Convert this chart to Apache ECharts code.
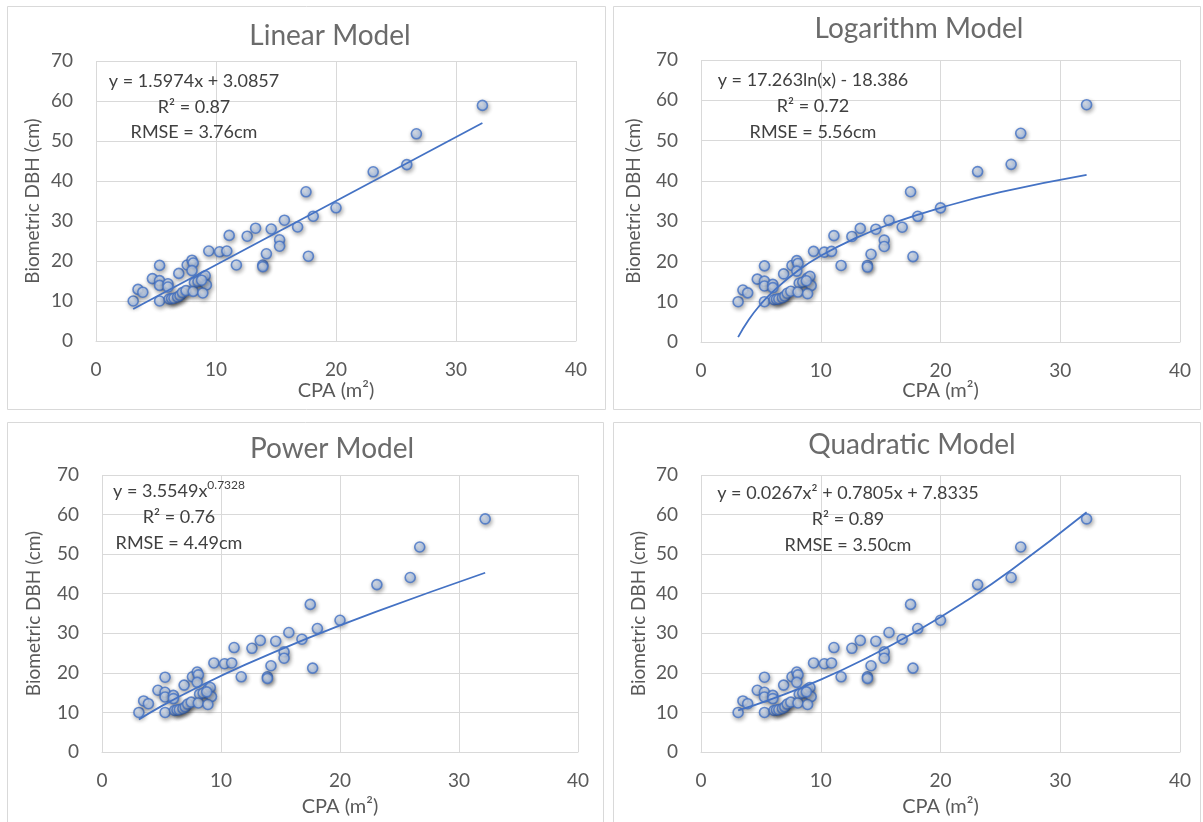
<!DOCTYPE html>
<html>
<head>
<meta charset="utf-8">
<title>CPA vs DBH models</title>
<script src="https://cdn.jsdelivr.net/npm/echarts@6/dist/echarts.min.js"></script>
<style>
    body { margin: 0; background: #fff; }
    #main { width: 1203px; height: 822px; }
</style>
</head>
<body>
<div id="main"></div>
<script>
// measured points: crown projection area (m2) and biometric DBH (cm)
var cpa = [3.1, 3.5, 3.9, 4.7, 5.3, 5.3, 5.3, 5.3, 6.0, 6.0, 6.1, 6.3, 6.5, 6.8, 6.9, 7.0, 7.2, 7.5,
    7.6, 8.0, 8.1, 8.0, 8.2, 8.1, 8.5, 8.9, 9.1, 9.2, 8.9, 8.8, 9.4, 10.3, 10.9, 11.1, 11.7, 12.6,
    13.3, 13.9, 13.9, 14.2, 14.6, 15.3, 15.3, 15.7, 16.8, 17.5, 17.7, 18.1, 20.0, 23.1, 25.9, 26.7, 32.2];
var dbh = [10.0, 12.9, 12.2, 15.6, 18.9, 15.1, 13.9, 10.0, 14.3, 13.5, 10.5, 10.6, 10.7, 11.0, 16.9, 11.4, 12.1, 12.6,
    19.0, 20.2, 19.5, 17.6, 14.6, 12.4, 14.9, 15.9, 16.3, 14.0, 12.0, 15.2, 22.5, 22.3, 22.5, 26.4, 19.0, 26.2,
    28.2, 19.0, 18.6, 21.8, 28.0, 25.3, 23.7, 30.2, 28.5, 37.3, 21.2, 31.2, 33.3, 42.3, 44.1, 51.8, 58.9];

// trendlines
var linTrendX = [3.1, 32.2];
var linTrendY = [8.0, 54.5];
var logTrendX = [3.1, 4, 5, 6, 8, 10, 13, 16, 20, 25, 32.2];
var logTrendY = [1.2, 5.6, 9.4, 12.5, 17.5, 21.4, 25.9, 29.5, 33.3, 37.2, 41.5];
var powTrendX = [3.1, 5, 8, 12, 17, 23, 32.2];
var powTrendY = [8.2, 11.6, 16.3, 22.0, 28.4, 35.4, 45.3];
var quadTrendX = [3.1, 6, 10, 14, 18, 22, 26, 32.2];
var quadTrendY = [10.5, 13.5, 18.3, 24.0, 30.5, 37.9, 46.2, 60.6];

var titles = ['Linear Model', 'Logarithm Model', 'Power Model', 'Quadratic Model'];
var equations = ['y = 1.5974x + 3.0857', 'y = 17.263ln(x) - 18.386', 'y = 3.5549x', 'y = 0.0267x² + 0.7805x + 7.8335'];
var powerExp = '0.7328';
var r2Labels = ['R² = 0.87', 'R² = 0.72', 'R² = 0.76', 'R² = 0.89'];
var rmseLabels = ['RMSE = 3.76cm', 'RMSE = 5.56cm', 'RMSE = 4.49cm', 'RMSE = 3.50cm'];
var xTicks = [0, 10, 20, 30, 40];
var yTicks = [0, 10, 20, 30, 40, 50, 60, 70];

var trends = [[linTrendX, linTrendY], [logTrendX, logTrendY], [powTrendX, powTrendY], [quadTrendX, quadTrendY]];

// layout of the four panels
var boxes = [[7, 6, 598, 403], [613, 6, 587, 403], [7, 422, 596, 400], [613, 422, 587, 400]];
var grids = [
    {left: 96, top: 61, width: 480, height: 280},
    {left: 701, top: 60, width: 479, height: 282},
    {left: 102, top: 475, width: 476, height: 277},
    {left: 701, top: 475, width: 479, height: 277}
];
var titlePos = [[330, 36], [919, 29], [332, 449], [912, 445]];
var notePos = [[194, 81, 107, 132], [813, 80, 106, 132], [179, 491, 517, 543], [848, 493, 519, 545]];
var yNameGap = [54, 58, 59, 53];
var xNameGap = [40, 39, 45, 45];

var FONT = 'Lato';
var GREY = '#595959';

var myChart = echarts.init(document.getElementById('main'));

var ctx = document.createElement('canvas').getContext('2d');
function textWidth(t, size) {
    ctx.font = size + 'px ' + FONT;
    return ctx.measureText(t).width;
}

var graphic = [];
var xAxis = [], yAxis = [], series = [];
var points = cpa.map(function (v, i) { return [v, dbh[i]]; });

for (var i = 0; i < 4; i++) {
    var b = boxes[i];
    graphic.push({
        type: 'rect', z: -10,
        shape: {x: b[0] + 0.5, y: b[1] + 0.5, width: b[2], height: b[3]},
        style: {fill: '#fff', stroke: '#d9d9d9', lineWidth: 1}
    });
    graphic.push({
        type: 'text', x: titlePos[i][0], y: titlePos[i][1],
        style: {text: titles[i], fill: '#6b6b6b', fontSize: 28, fontFamily: FONT, align: 'center', verticalAlign: 'middle'}
    });

    var np = notePos[i];
    if (i === 2) {
        // power equation with superscript exponent
        var w1 = textWidth(equations[i], 18), w2 = textWidth(powerExp, 12);
        var x0 = np[0] - (w1 + w2) / 2;
        graphic.push({
            type: 'text', x: x0, y: np[1], z: 20,
            style: {text: equations[i], fill: '#404040', fontSize: 18, fontFamily: FONT, align: 'left', verticalAlign: 'middle'}
        });
        graphic.push({
            type: 'text', x: x0 + w1, y: np[1] - 6, z: 20,
            style: {text: powerExp, fill: '#404040', fontSize: 12, fontFamily: FONT, align: 'left', verticalAlign: 'middle'}
        });
    } else {
        graphic.push({
            type: 'text', x: np[0], y: np[1], z: 20,
            style: {text: equations[i], fill: '#404040', fontSize: 18, fontFamily: FONT, align: 'center', verticalAlign: 'middle'}
        });
    }
    graphic.push({
        type: 'text', x: np[0], y: np[2], z: 20,
        style: {text: r2Labels[i], fill: '#404040', fontSize: 18, fontFamily: FONT, align: 'center', verticalAlign: 'middle'}
    });
    graphic.push({
        type: 'text', x: np[0], y: np[3], z: 20,
        style: {text: rmseLabels[i], fill: '#404040', fontSize: 18, fontFamily: FONT, align: 'center', verticalAlign: 'middle'}
    });

    xAxis.push({
        gridIndex: i, type: 'value',
        min: xTicks[0], max: xTicks[xTicks.length - 1], interval: xTicks[1] - xTicks[0],
        name: 'CPA (m²)', nameLocation: 'middle', nameGap: xNameGap[i],
        nameTextStyle: {fontSize: 20, color: GREY, fontFamily: FONT},
        axisLine: {show: true, lineStyle: {color: '#d9d9d9'}},
        axisTick: {show: false},
        axisLabel: {fontSize: 19, color: GREY, fontFamily: FONT, margin: 19},
        splitLine: {show: true, lineStyle: {color: '#d9d9d9', width: 1}}
    });
    yAxis.push({
        gridIndex: i, type: 'value',
        min: yTicks[0], max: yTicks[yTicks.length - 1], interval: yTicks[1] - yTicks[0],
        name: 'Biometric DBH (cm)', nameLocation: 'middle', nameGap: yNameGap[i],
        nameTextStyle: {fontSize: 19, color: GREY, fontFamily: FONT},
        axisLine: {show: false},
        axisTick: {show: false},
        axisLabel: {fontSize: 19, color: GREY, fontFamily: FONT, margin: 23},
        splitLine: {show: true, lineStyle: {color: '#d9d9d9', width: 1}}
    });

    series.push({
        type: 'scatter', xAxisIndex: i, yAxisIndex: i,
        data: points, symbolSize: 10, z: 2,
        itemStyle: {
            color: {
                type: 'radial', x: 0.4, y: 0.4, r: 0.65,
                colorStops: [{offset: 0, color: '#eaf1fc'}, {offset: 1, color: '#98b9ec'}]
            },
            borderColor: '#4472c4', borderWidth: 1.6,
            shadowBlur: 4, shadowColor: 'rgba(0,0,0,0.4)', shadowOffsetX: 1, shadowOffsetY: 2
        }
    });
    var tx = trends[i][0], ty = trends[i][1];
    series.push({
        type: 'line', xAxisIndex: i, yAxisIndex: i,
        data: tx.map(function (v, k) { return [v, ty[k]]; }),
        showSymbol: false, smooth: i > 0, z: 3,
        lineStyle: {color: '#4472c4', width: 1.8}
    });
}

var grid = grids.map(function (g) {
    return {left: g.left, top: g.top, width: g.width, height: g.height};
});

var option = {
    animation: false,
    backgroundColor: '#fff',
    graphic: graphic,
    grid: grid,
    xAxis: xAxis,
    yAxis: yAxis,
    series: series
};
myChart.setOption(option);
</script>
</body>
</html>
